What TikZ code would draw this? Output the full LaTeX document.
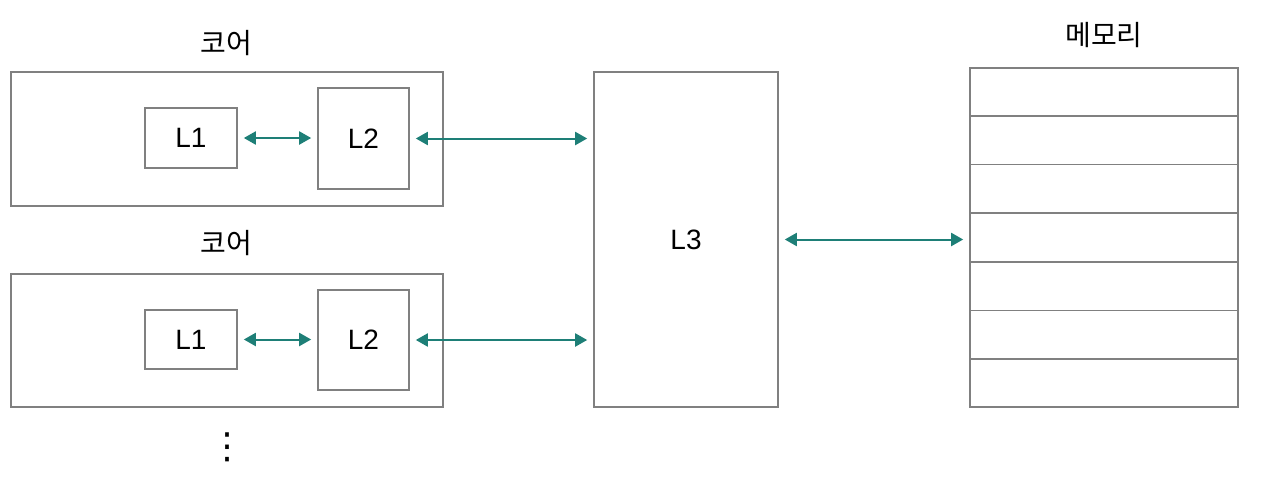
\documentclass[tikz,border=0pt]{standalone}
\usepackage{fontspec}
\setmainfont{Liberation Sans}
\newfontfamily\kr{Noto Sans CJK KR}
\newfontfamily\symb{DejaVu Sans}
\usetikzlibrary{arrows.meta,positioning,calc}
\definecolor{edge}{HTML}{808080}
\definecolor{linkc}{HTML}{1E7F77}
\tikzset{
  box/.style={draw=edge,line width=1.6pt,inner sep=0pt},
  cache/.style={box,font=\fontsize{28}{30}\selectfont},
  link/.style={{Triangle[length=12pt,width=13pt]}-{Triangle[length=12pt,width=13pt]},
               line width=2pt,linkc,shorten <=6pt,shorten >=6pt},
  title/.style={font=\kr\fontsize{28}{30}\selectfont},
}
\begin{document}
\begin{tikzpicture}[x=1pt,y=-1pt]
  \useasboundingbox (0,0) rectangle (1262,482);
  % cores
  \node[box,minimum width=432pt,minimum height=134pt] (core1) at (227,139) {};
  \node[box,minimum width=432pt,minimum height=133pt] (core2) at (227,340.5) {};
  \node[title] (t1) at (226,43) {코어};
  \node[title] (t2) at (226,243) {코어};
  \node[cache,minimum width=92pt,minimum height=60pt] (l1a) at (191,138) {L1};
  \node[cache,minimum width=91pt,minimum height=101pt] (l2a) at (363.5,138.5) {L2};
  \node[cache,minimum width=92pt,minimum height=59pt] (l1b) at (191,339.5) {L1};
  \node[cache,minimum width=91pt,minimum height=100pt] (l2b) at (363.5,340) {L2};
  \node[font=\symb\fontsize{36}{36}\selectfont,inner sep=0pt] (dots) at (227,447) {⋮};
  % shared cache and memory
  \node[cache,minimum width=184pt,minimum height=335pt] (l3) at (686,239.5) {L3};
  \node[box,minimum width=268pt,minimum height=339pt] (mem) at (1104,237.5) {};
  \node[title] (t3) at (1104,35) {메모리};
  \foreach \i in {1,...,6}
    \draw[edge,line width=1.6pt] ($(mem.north west)!\i/7!(mem.south west)$)
      -- ($(mem.north east)!\i/7!(mem.south east)$);
  % links
  \draw[link] (l1a.east) -- (l2a.west |- l1a.east);
  \draw[link] (l1b.east) -- (l2b.west |- l1b.east);
  \draw[link] (l2a.east) -- (l2a.east -| l3.west);
  \draw[link] (l2b.east) -- (l2b.east -| l3.west);
  \draw[link] (l3.east) -- (l3.east -| mem.west);
\end{tikzpicture}
\end{document}
